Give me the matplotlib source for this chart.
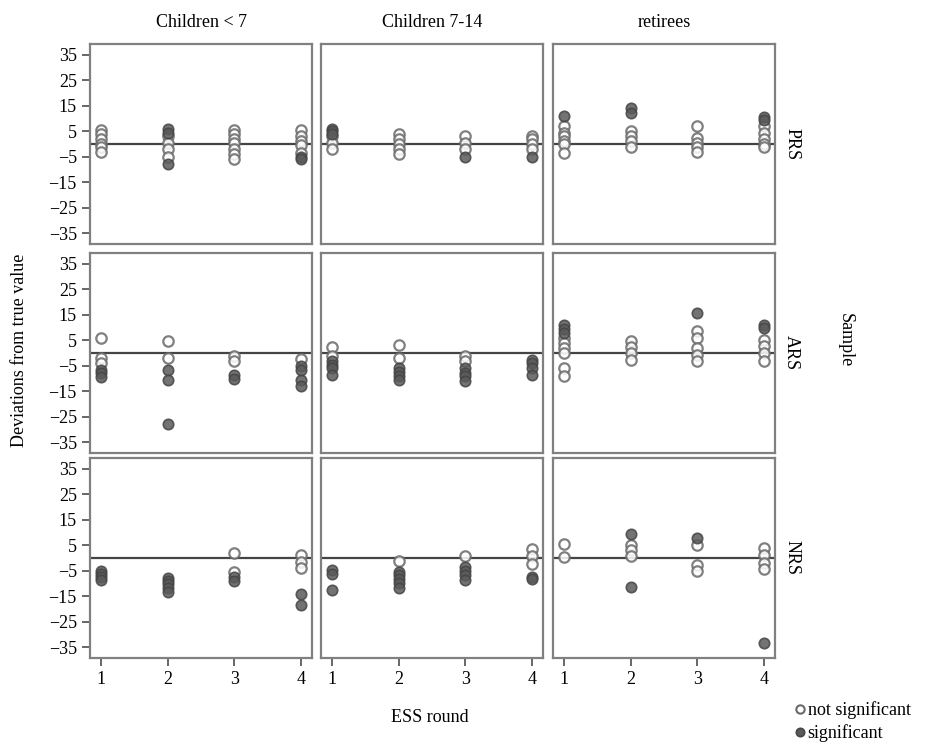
import matplotlib.pyplot as plt
from matplotlib.lines import Line2D

plt.rcParams['font.family'] = ['Liberation Serif', 'DejaVu Serif']

groups = ['Children < 7', 'Children 7-14', 'retirees']
samples = ['PRS', 'ARS', 'NRS']
rounds = [1, 2, 3, 4]
yticks = [35, 25, 15, 5, -5, -15, -25, -35]

# deviations per ESS round: ns = not significant, sig = significant
prs_young_ns = [[5.5, 4, 2, 0, -1, -3], [3, 0.5, -2, -5], [5.5, 4, 2, 0.5, -2, -4, -6], [5.5, 3, 1, -0.5, -3.5]]
prs_young_sig = [[], [6, 4.5, -8], [], [-5, -6]]
prs_mid_ns = [[3, 0.5, -2], [3.75, 2, 0, -2, -3.75], [3, 0.5, -2], [3, 2, 0, -2]]
prs_mid_sig = [[6, 5, 4], [], [-5], [-5]]
prs_old_ns = [[7, 4.5, 3, 1, 0, -3.5], [5, 3, 1, -1], [7, 2.5, 0.5, -1, -3], [7, 4.5, 2, 0, -1]]
prs_old_sig = [[11], [14, 12], [], [10.5, 9.5]]

ars_young_ns = [[6, -2, -4], [4.6, -2], [-1.3, -3], [-2.2]]
ars_young_sig = [[-6.5, -8, -9.5], [-6.5, -10.5, -28], [-8.5, -10.2], [-5.3, -6.5, -10.5, -12.9]]
ars_mid_ns = [[2.2, -1.3], [3, -2], [-1.3, -3], []]
ars_mid_sig = [[-3.3, -4.6, -5.9, -8.5], [-6, -7.5, -9, -10.5], [-6, -8, -9, -11], [-2.6, -4, -6, -8.5]]
ars_old_ns = [[5.9, 3.9, 2, 0, -6, -9], [4.6, 2.2, 0, -2.6], [8.5, 5.9, 2, -0.7, -3], [5.3, 2.6, 0, -3.3]]
ars_old_sig = [[11.2, 9.6, 7.9], [], [15.8], [11, 9.8]]

nrs_young_ns = [[], [], [1.9, -5.5], [1.2, -1.4, -4]]
nrs_young_sig = [[-5.3, -6.2, -7.4, -8.5], [-7.8, -9.1, -10.4, -11.7, -13.2], [-7.4, -9], [-14.2, -18.6]]
nrs_mid_ns = [[], [-1], [0.9], [3.5, 0.9, -2.3]]
nrs_mid_sig = [[-4.9, -6.2, -12.6], [-5.5, -6.8, -8.3, -10, -11.7], [-3.6, -5.3, -6.8, -8.7], [-7.4, -8.3]]
nrs_old_ns = [[5.6, 0.2], [5.1, 3.2, 0.6], [5.1, -2.6, -5.1], [3.8, 1.3, -1.9, -4.5]]
nrs_old_sig = [[], [9.6, -11.5], [7.7], [-33.3]]

panels = [
    [(prs_young_ns, prs_young_sig), (prs_mid_ns, prs_mid_sig), (prs_old_ns, prs_old_sig)],
    [(ars_young_ns, ars_young_sig), (ars_mid_ns, ars_mid_sig), (ars_old_ns, ars_old_sig)],
    [(nrs_young_ns, nrs_young_sig), (nrs_mid_ns, nrs_mid_sig), (nrs_old_ns, nrs_old_sig)],
]

W, H = 930, 745
fig = plt.figure(figsize=(W / 100, H / 100), dpi=100)

lefts = [90, 321, 553]
tops = [44, 253, 458]
pw, ph = 222, 200

open_kw = dict(linestyle='none', marker='o', markersize=7.5, markerfacecolor='white',
               markeredgecolor='#6a6a6a', markeredgewidth=1.6, alpha=0.85)
fill_kw = dict(linestyle='none', marker='o', markersize=7.5, markerfacecolor='#5a5a5a',
               markeredgecolor='#454545', markeredgewidth=1.2, alpha=0.85)

for r, sample in enumerate(samples):
    for c, group in enumerate(groups):
        ax = fig.add_axes([lefts[c] / W, 1 - (tops[r] + ph) / H, pw / W, ph / H])
        ns, sig = panels[r][c]
        ax.axhline(0, color='#444444', lw=1.6, zorder=1)
        for i, rnd in enumerate(rounds):
            ax.plot([rnd] * len(ns[i]), ns[i], zorder=2, **open_kw)
            ax.plot([rnd] * len(sig[i]), sig[i], zorder=3, **fill_kw)
        ax.set_xlim(0.84, 4.16)
        ax.set_ylim(-39.3, 39.3)
        for s in ax.spines.values():
            s.set_color('#808080')
            s.set_linewidth(1.6)
        ax.tick_params(colors='#666666', width=1.4, length=6, labelcolor='black', labelsize=13)
        if c == 0:
            ax.set_yticks(yticks)
        else:
            ax.set_yticks([])
        if r == 2:
            ax.set_xticks(rounds)
        else:
            ax.set_xticks([])
        if r == 0:
            ax.set_title(group, fontsize=13, pad=12)
        if c == 2:
            ax.text(1.075, 0.5, sample, transform=ax.transAxes, rotation=270,
                    ha='center', va='center', fontsize=13)

fig.text(20 / W, 1 - 350 / H, 'Deviations from true value', rotation=90,
         ha='center', va='center', fontsize=13)
fig.text(845 / W, 1 - 340 / H, 'Sample', rotation=270, ha='center', va='center', fontsize=13)
fig.text(430 / W, 1 - 718 / H, 'ESS round', ha='center', va='center', fontsize=13)

handles = [
    Line2D([], [], linestyle='none', marker='o', markersize=6, markerfacecolor='white',
           markeredgecolor='#6a6a6a', markeredgewidth=1.5),
    Line2D([], [], linestyle='none', marker='o', markersize=6, markerfacecolor='#5a5a5a',
           markeredgecolor='#454545', markeredgewidth=1.2),
]
fig.legend(handles, ['not significant', 'significant'], loc='upper left',
           bbox_to_anchor=(786 / W, 1 - 692 / H), frameon=False, fontsize=13,
           handlelength=0.6, handletextpad=0.1, borderpad=0, labelspacing=0.3)

fig.savefig('out.png', dpi=100)
